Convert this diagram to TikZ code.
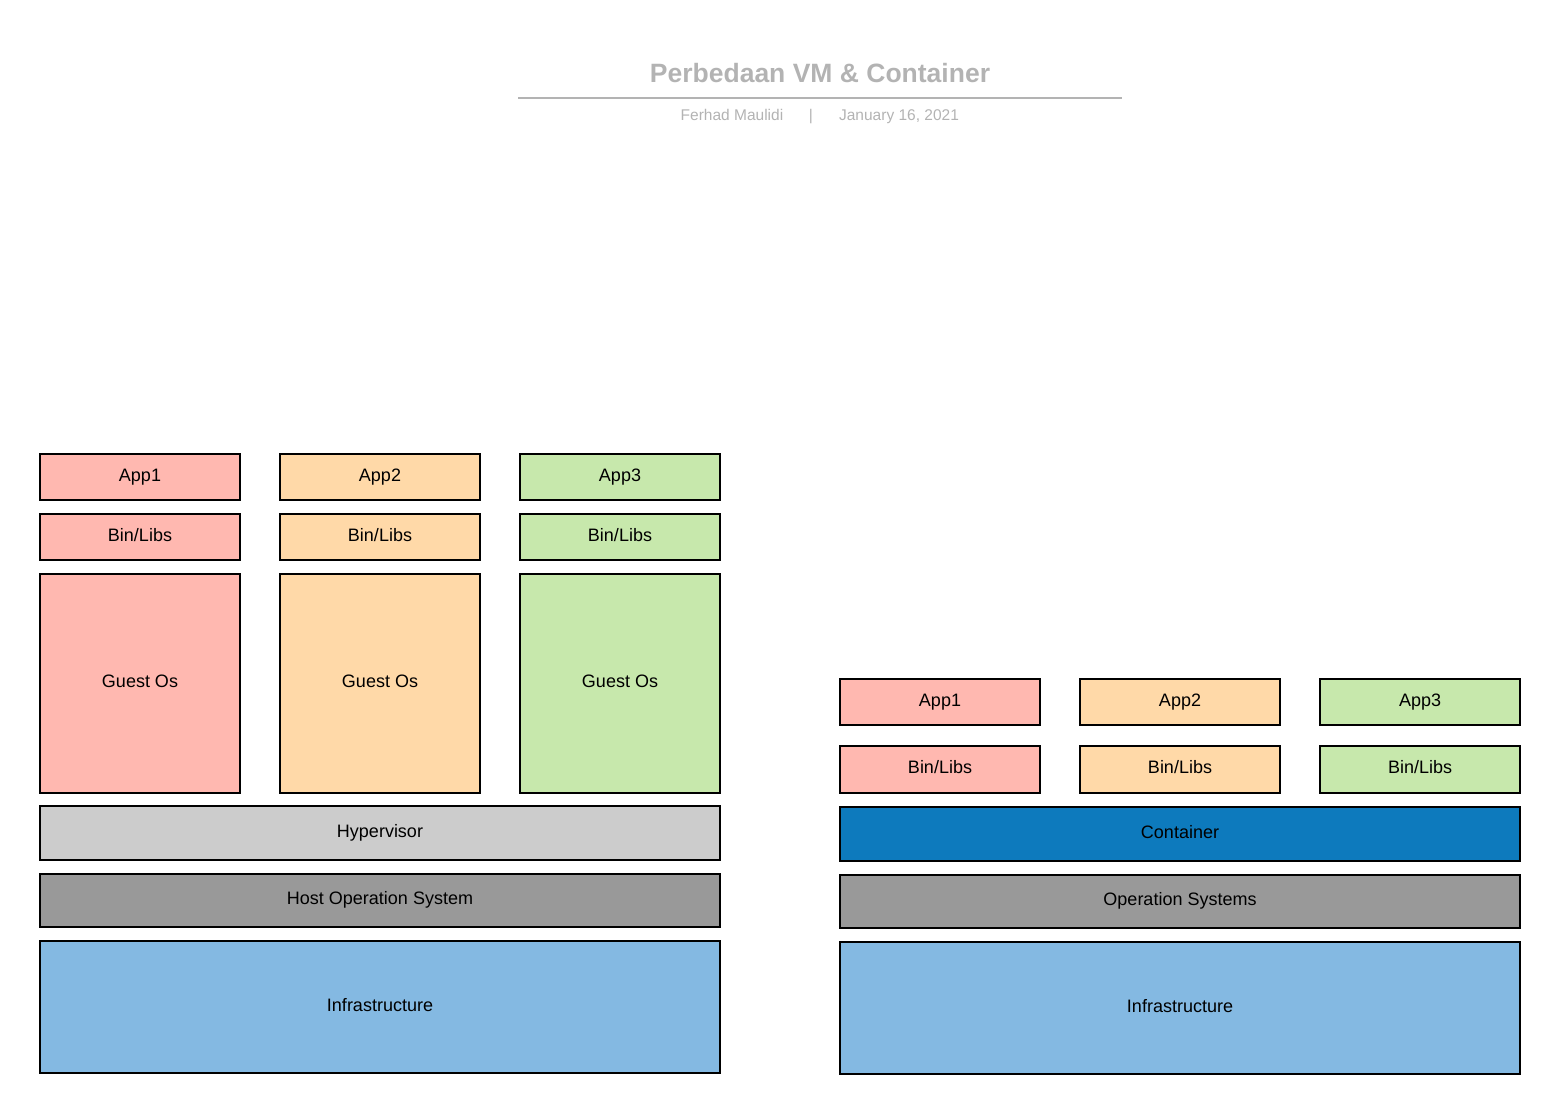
\documentclass[tikz,border=0pt]{standalone}
\usepackage{fontspec}
\setmainfont{Liberation Sans}

\definecolor{appred}{HTML}{FFB8B0}
\definecolor{apporange}{HTML}{FFD9A8}
\definecolor{appgreen}{HTML}{C7E8AC}
\definecolor{hypergray}{HTML}{CCCCCC}
\definecolor{osgray}{HTML}{999999}
\definecolor{infrablue}{HTML}{84B9E2}
\definecolor{contblue}{HTML}{0D7ABD}
\definecolor{titlegray}{HTML}{B3B3B3}

\tikzset{
  layer/.style={draw=black, line width=1.6pt, rectangle, inner sep=0pt,
    text height=0.9em, text depth=0.03em,
    font=\fontsize{18}{21}\selectfont},
  small/.style={layer, minimum width=200pt, minimum height=46pt},
  meta/.style={text=titlegray, text height=0.72em, text depth=0.21em,
    font=\fontsize{15.5}{18}\selectfont},
}

\begin{document}
\begin{tikzpicture}[x=1pt, y=-1pt]
\useasboundingbox (0,0) rectangle (1560,1115);

% title
\node[text=titlegray, font=\fontsize{26.5}{30}\selectfont\bfseries] (title) at (820,73) {Perbedaan VM \& Container};
\coordinate (rulel) at (518,98);
\coordinate (ruler) at (1122,98);
\draw[titlegray, line width=1.5pt] (rulel) -- (ruler);
\node[meta] (author) at (732,117.5) {Ferhad Maulidi};
\node[meta] (sep) at (811,117.5) {|};
\node[meta] (date) at (899,117.5) {January 16, 2021};

% virtual machines
\node[small, fill=appred] (vmappa) at (140,477) {App1};
\node[small, fill=apporange] (vmappb) at (380,477) {App2};
\node[small, fill=appgreen] (vmappc) at (620,477) {App3};

\node[small, fill=appred] (vmlibsa) at (140,537) {Bin/Libs};
\node[small, fill=apporange] (vmlibsb) at (380,537) {Bin/Libs};
\node[small, fill=appgreen] (vmlibsc) at (620,537) {Bin/Libs};

\node[layer, fill=appred, minimum width=200pt, minimum height=219pt] (guesta) at (140,683.5) {Guest Os};
\node[layer, fill=apporange, minimum width=200pt, minimum height=219pt] (guestb) at (380,683.5) {Guest Os};
\node[layer, fill=appgreen, minimum width=200pt, minimum height=219pt] (guestc) at (620,683.5) {Guest Os};

\node[layer, fill=hypergray, minimum width=680pt, minimum height=54pt] (hyper) at (380,833) {Hypervisor};
\node[layer, fill=osgray, minimum width=680pt, minimum height=53pt] (hostos) at (380,900.5) {Host Operation System};
\node[layer, fill=infrablue, minimum width=680pt, minimum height=132pt] (vminfra) at (380,1007) {Infrastructure};

% containers
\node[small, fill=appred] (ctappa) at (940,702) {App1};
\node[small, fill=apporange] (ctappb) at (1180,702) {App2};
\node[small, fill=appgreen] (ctappc) at (1420,702) {App3};

\node[small, fill=appred, minimum height=47pt] (ctlibsa) at (940,769.5) {Bin/Libs};
\node[small, fill=apporange, minimum height=47pt] (ctlibsb) at (1180,769.5) {Bin/Libs};
\node[small, fill=appgreen, minimum height=47pt] (ctlibsc) at (1420,769.5) {Bin/Libs};

\node[layer, fill=contblue, minimum width=680pt, minimum height=54pt] (engine) at (1180,834) {Container};
\node[layer, fill=osgray, minimum width=680pt, minimum height=53pt] (ctos) at (1180,901.5) {Operation Systems};
\node[layer, fill=infrablue, minimum width=680pt, minimum height=132pt] (ctinfra) at (1180,1008) {Infrastructure};

\end{tikzpicture}
\end{document}
